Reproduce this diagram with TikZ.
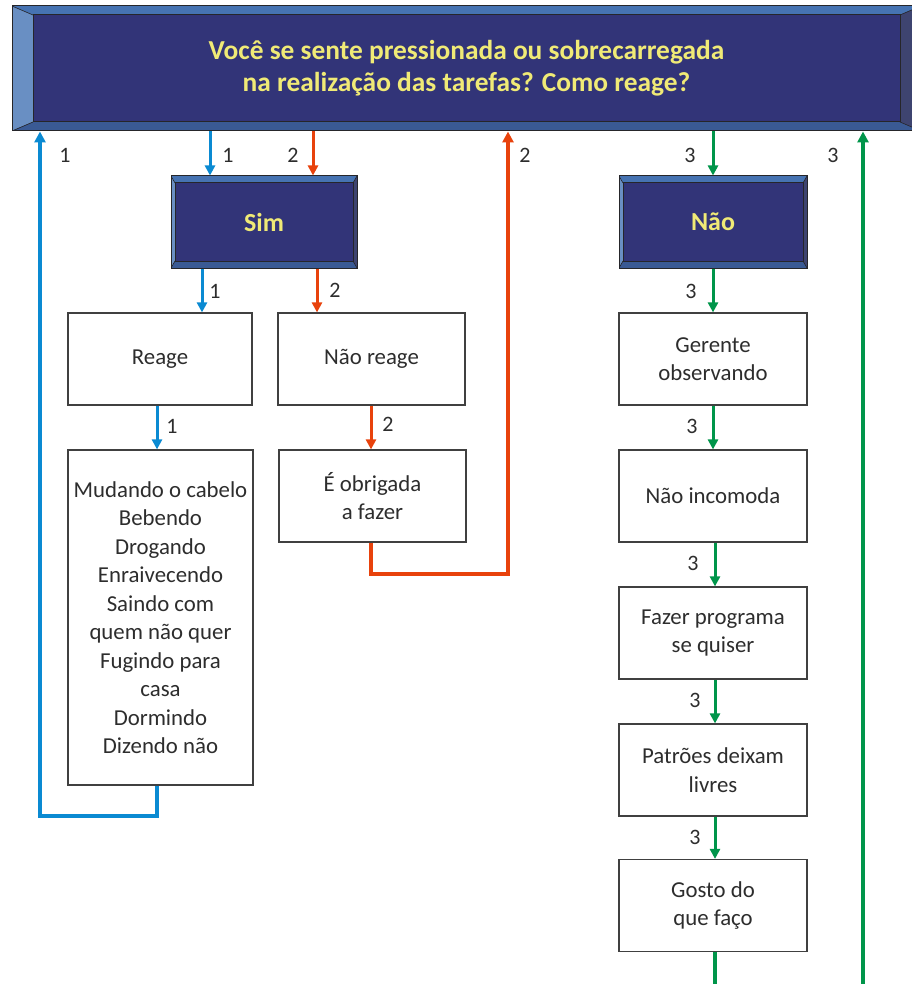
\documentclass[tikz,border=0pt]{standalone}
\usepackage{fontspec}
\setmainfont{Carlito}
\usetikzlibrary{arrows.meta,positioning,calc}

\definecolor{navy}{RGB}{50,52,120}
\definecolor{bevtop}{RGB}{70,115,178}
\definecolor{bevleft}{RGB}{105,143,195}
\definecolor{bevbot}{RGB}{58,90,148}
\definecolor{bevright}{RGB}{62,68,112}
\definecolor{bevline}{RGB}{38,38,42}
\definecolor{lemon}{RGB}{240,234,118}
\definecolor{boxline}{RGB}{64,64,64}
\definecolor{textgray}{RGB}{45,45,45}
\definecolor{flowblue}{RGB}{10,138,210}
\definecolor{floworange}{RGB}{232,66,12}
\definecolor{flowgreen}{RGB}{0,149,74}

\tikzset{
  bevelbox/.style 2 args={draw=bevline, line width=1pt, fill=navy, text=lemon, align=center,
    path picture={
      \coordinate (nw) at (path picture bounding box.north west);
      \coordinate (ne) at (path picture bounding box.north east);
      \coordinate (sw) at (path picture bounding box.south west);
      \coordinate (se) at (path picture bounding box.south east);
      \fill[bevtop] (nw) -- (ne) -- ([xshift=-#1,yshift=-#2]ne) -- ([xshift=#1,yshift=-#2]nw) -- cycle;
      \fill[bevleft] (nw) -- (sw) -- ([xshift=#1,yshift=#2]sw) -- ([xshift=#1,yshift=-#2]nw) -- cycle;
      \fill[bevbot] (sw) -- (se) -- ([xshift=-#1,yshift=#2]se) -- ([xshift=#1,yshift=#2]sw) -- cycle;
      \fill[bevright] (ne) -- (se) -- ([xshift=-#1,yshift=#2]se) -- ([xshift=-#1,yshift=-#2]ne) -- cycle;
      \draw[bevline, line width=1pt] ([xshift=#1,yshift=-#2]nw) rectangle ([xshift=-#1,yshift=#2]se);
      \draw[bevline, line width=0.6pt] (nw) -- ([xshift=#1,yshift=-#2]nw) (ne) -- ([xshift=-#1,yshift=-#2]ne)
        (sw) -- ([xshift=#1,yshift=#2]sw) (se) -- ([xshift=-#1,yshift=#2]se);
    }},
  stepbox/.style={draw=boxline, line width=1.2pt, fill=white, text=textgray, align=center,
    minimum width=187pt, minimum height=92pt, font=\fontsize{22.8}{28.5}\selectfont},
  num/.style={text=textgray, font=\fontsize{22}{22}\selectfont, inner sep=0pt},
  flow/.style={line width=3pt, -{Triangle[length=10pt,width=10pt]}},
  bluearr/.style={flow, flowblue},
  orangearr/.style={flow, floworange},
  greenarr/.style={flow, flowgreen},
  backline/.style={line width=3.5pt, line join=miter, -{Triangle[length=11pt,width=11pt]}}
}

\begin{document}
\begin{tikzpicture}[x=1pt,y=-1pt]
\useasboundingbox (0,0) rectangle (911,984);

% question banner and answers
\node[bevelbox={21pt}{9pt}, minimum width=909pt, minimum height=125pt,
  font=\bfseries\fontsize{27.4}{32}\selectfont] (quest) at (466.5,68.5)
  {Você se sente pressionada ou sobrecarregada\\na realização das tarefas? Como reage?};
\node[bevelbox={4pt}{7pt}, minimum width=186pt, minimum height=92pt,
  font=\bfseries\fontsize{26}{28}\selectfont] (sim) at (264,222) {Sim};
\node[bevelbox={4pt}{7pt}, minimum width=188pt, minimum height=92pt,
  font=\bfseries\fontsize{26}{28}\selectfont] (nao) at (713,222) {Não};

% left branch
\node[stepbox, minimum width=184pt] (reage) at (160,359) {Reage};
\node[stepbox] (naoreage) at (371.5,359) {Não reage};
\node[stepbox, minimum width=185pt, minimum height=335pt] (mudando) at (160.5,617.5)
  {Mudando o cabelo\\Bebendo\\Drogando\\Enraivecendo\\Saindo com\\quem não quer\\Fugindo para\\casa\\Dormindo\\Dizendo não};
\node[stepbox] (obrigada) at (372.5,496) {É obrigada\\a fazer};

% right branch
\node[stepbox, minimum width=188pt] (gerente) at (713,359) {Gerente\\observando};
\node[stepbox, minimum width=188pt] (incomoda) at (713,496) {Não incomoda};
\node[stepbox, minimum width=188pt] (programa) at (713,633) {Fazer programa\\se quiser};
\node[stepbox, minimum width=188pt] (patroes) at (713,770) {Patrões deixam\\livres};
\node[stepbox, minimum width=188pt] (gosto) at (713,905.5) {Gosto do\\que faço};

% arrow columns
\coordinate (xa) at (210,0);
\coordinate (xb) at (313,0);
\coordinate (xc) at (713,0);
\coordinate (xd) at (202,0);
\coordinate (xe) at (317,0);
\coordinate (xf) at (157,0);
\coordinate (xg) at (371,0);
\coordinate (xk) at (715,0);
\coordinate (bluecorner) at (40,816);
\coordinate (orangecorner) at (508,574);
\coordinate (greenfoot) at (863,984);
\coordinate (gostofoot) at (715,984);

\draw[bluearr] (quest.south -| xa) -- (sim.north -| xa);
\draw[orangearr] (quest.south -| xb) -- (sim.north -| xb);
\draw[greenarr] (quest.south -| xc) -- (nao.north -| xc);
\draw[bluearr] (sim.south -| xd) -- (reage.north -| xd);
\draw[orangearr] (sim.south -| xe) -- (naoreage.north -| xe);
\draw[bluearr] (reage.south -| xf) -- (mudando.north -| xf);
\draw[orangearr] (naoreage.south -| xg) -- (obrigada.north -| xg);
\draw[greenarr] (nao.south -| xc) -- (gerente.north -| xc);
\draw[greenarr] (gerente.south -| xc) -- (incomoda.north -| xc);
\draw[greenarr] (incomoda.south -| xk) -- (programa.north -| xk);
\draw[greenarr] (programa.south -| xk) -- (patroes.north -| xk);
\draw[greenarr] (patroes.south -| xk) -- (gosto.north -| xk);
\draw[flowgreen, line width=3.5pt] (gosto.south -| gostofoot) -- (gostofoot);

% loops back to the question
\draw[backline, flowblue] (mudando.south -| xf) |- (bluecorner) -- (quest.south -| bluecorner);
\draw[backline, floworange] (obrigada.south -| xg) |- (orangecorner) -- (quest.south -| orangecorner);
\draw[backline, flowgreen] (greenfoot) -- (quest.south -| greenfoot);

% path numbers
\node[num] (n1) at (65,155) {1};
\node[num] (n2) at (228,155) {1};
\node[num] (n3) at (293,155) {2};
\node[num] (n4) at (525,155) {2};
\node[num] (n5) at (690,155) {3};
\node[num] (n6) at (833,155) {3};
\node[num] (n7) at (215,291) {1};
\node[num] (n8) at (335,290) {2};
\node[num] (n9) at (172,426) {1};
\node[num] (n10) at (388,424) {2};
\node[num] (n11) at (691,291) {3};
\node[num] (n12) at (692,426) {3};
\node[num] (n13) at (693,563) {3};
\node[num] (n14) at (695,700) {3};
\node[num] (n15) at (695,837) {3};
\end{tikzpicture}
\end{document}
